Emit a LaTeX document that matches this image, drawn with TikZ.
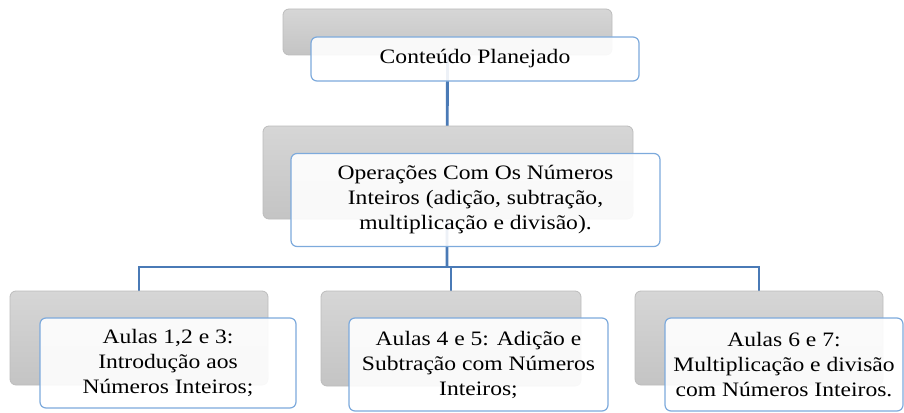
\documentclass[tikz,border=0pt]{standalone}
\usepackage{fontspec}
\setmainfont{Liberation Serif}[FakeStretch=1.15]
\definecolor{lineblue}{RGB}{74,122,182}
\definecolor{boxblue}{RGB}{125,170,220}
\definecolor{grayedge}{RGB}{188,188,188}
\definecolor{graytop}{RGB}{214,214,214}
\definecolor{graybot}{RGB}{196,196,196}
\pgfdeclarelayer{background}
\pgfsetlayers{background,main}
\begin{document}
\begin{tikzpicture}[x=1pt,y=-1pt,
  shadowbox/.style={draw=grayedge, line width=0.8pt, rounded corners=6pt,
    top color=graytop, bottom color=graybot, inner sep=0pt},
  textbox/.style={draw=boxblue, line width=1.2pt, rounded corners=6pt,
    fill=white, fill opacity=0.9, text opacity=1, inner sep=0pt,
    align=center, font=\fontsize{20.5}{25}\selectfont},
  link/.style={draw=lineblue, line width=2.8pt}]
\useasboundingbox (0,0) rectangle (904,412);
% level 1
\node[shadowbox, minimum width=329pt, minimum height=46pt] (g1) at (447.5,32) {};
\node[textbox, minimum width=328pt, minimum height=44pt] (t) at (475,59) {Conteúdo Planejado};
% level 2
\node[shadowbox, minimum width=370pt, minimum height=93pt] (g2) at (448,172.5) {};
\node[textbox, minimum width=369pt, minimum height=93pt] (m) at (475.5,200)
  {Operações Com Os Números\\Inteiros (adição, subtração,\\multiplicação e divisão).};
% level 3
\node[shadowbox, minimum width=258pt, minimum height=94pt] (b1g) at (139,338) {};
\node[textbox, minimum width=256pt, minimum height=90pt] (b1) at (168,363)
  {Aulas 1,2 e 3:\\Introdução aos\\Números Inteiros;};
\node[shadowbox, minimum width=260pt, minimum height=95pt] (b2g) at (451,338.5) {};
\node[textbox, minimum width=259pt, minimum height=93pt] (b2) at (478.5,364.5)
  {Aulas 4 e 5: Adição e\\Subtração com Números\\Inteiros;};
\node[shadowbox, minimum width=248pt, minimum height=94pt] (b3g) at (759,338) {};
\node[textbox, minimum width=238pt, minimum height=93pt] (b3) at (784,364.5)
  {Aulas 6 e 7:\\Multiplicação e divisão\\com Números Inteiros.};
\coordinate (hub) at (447,267);
\begin{pgfonlayer}{background}
\draw[link] (g1.center) -- (hub);
\draw[link] (b1g.north) |- (hub) -| (b3g.north);
\draw[link] (hub -| b2g.north) -- (b2g.north);
\end{pgfonlayer}
\end{tikzpicture}
\end{document}
